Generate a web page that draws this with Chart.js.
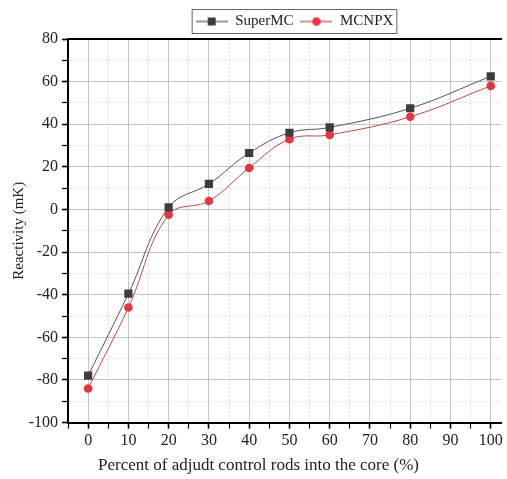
<!DOCTYPE html>
<html>
<head>
<meta charset="utf-8">
<script src="https://cdn.jsdelivr.net/npm/chart.js@4"></script>
<style>
  html, body { margin: 0; padding: 0; background: #fff; overflow: hidden; }
  #wrap { width: 507px; height: 479px; }
</style>
</head>
<body>
<div id="wrap"><canvas id="reactChart"></canvas></div>
<script>
// data
const rodPercent = [0, 10, 20, 30, 40, 50, 60, 80, 100]
const superMC = [-78, -39.5, 1, 12, 26.5, 36, 38.5, 47.5, 62.5]
const mcnpx = [-84, -46, -2.5, 4, 19.5, 33, 35, 43.5, 58]
const seriesNames = ['SuperMC', 'MCNPX']
const xTitle = 'Percent of adjudt control rods into the core (%)'
const yTitle = 'Reactivity (mK)'

const serif = "'Liberation Serif', 'Times New Roman', serif"

// legend icon: short line with marker in the middle
const makeIcon = (color, lineColor, shape) => {
  const c = document.createElement('canvas')
  c.width = 32
  c.height = 10
  const g = c.getContext('2d')
  g.strokeStyle = lineColor
  g.lineWidth = 1.2
  g.beginPath()
  g.moveTo(0, 5)
  g.lineTo(32, 5)
  g.stroke()
  g.fillStyle = color
  if (shape === 'rect') {
    g.fillRect(12, 1, 8, 8)
  } else {
    g.beginPath()
    g.arc(16, 5, 4.3, 0, Math.PI * 2)
    g.fill()
  }
  return c
}

const iconMC = makeIcon('#3d3d3d', '#555555', 'rect')
const iconNP = makeIcon('#e8343c', '#c04848', 'circle')

const toPoints = (ys) => rodPercent.map((x, i) => ({ x: x, y: ys[i] }))

// legend sits right of centre in the original, and has a frame
const legendFrame = {
  id: 'legendFrame',
  afterLayout(chart) {
    chart.legend.left += 36
    chart.legend.right += 36
  },
  afterDraw(chart) {
    const boxes = chart.legend.legendHitBoxes
    if (!boxes || !boxes.length) return
    const left = Math.min(...boxes.map(b => b.left)) - 4
    const right = Math.max(...boxes.map(b => b.left + b.width)) + 3
    const top = Math.min(...boxes.map(b => b.top)) - 5
    const bottom = Math.max(...boxes.map(b => b.top + b.height)) + 4
    const ctx = chart.ctx
    ctx.save()
    ctx.strokeStyle = '#666'
    ctx.lineWidth = 1
    ctx.strokeRect(left + 0.5, top + 0.5, right - left, bottom - top)
    ctx.restore()
  }
}

const isMajor = (ctx, step) => ctx.tick && Math.abs(ctx.tick.value % step) < 1e-6

const initChart = () => {
  const ctx = document.getElementById('reactChart').getContext('2d')

  new Chart(ctx, {
    type: 'line',
    data: {
      datasets: [
        {
          label: seriesNames[0],
          data: toPoints(superMC),
          borderColor: '#555555',
          borderWidth: 1,
          backgroundColor: '#3d3d3d',
          pointStyle: 'rect',
          pointRadius: 5.8,
          pointBorderWidth: 0,
          tension: 0.4
        },
        {
          label: seriesNames[1],
          data: toPoints(mcnpx),
          borderColor: '#c04848',
          borderWidth: 1,
          backgroundColor: '#e8343c',
          pointStyle: 'circle',
          pointRadius: 4.3,
          pointBorderWidth: 0,
          tension: 0.4
        }
      ]
    },
    options: {
      responsive: true,
      maintainAspectRatio: false,
      animation: false,
      layout: { padding: { top: 7, right: 0, left: 10, bottom: 0 } },
      plugins: {
        legend: {
          position: 'top',
          labels: {
            usePointStyle: true,
            pointStyleWidth: 32,
            color: '#222',
            padding: 7,
            font: { family: serif, size: 15 },
            generateLabels: (chart) => [
              { text: seriesNames[0], pointStyle: iconMC, datasetIndex: 0, lineWidth: 0, fontColor: '#222' },
              { text: seriesNames[1], pointStyle: iconNP, datasetIndex: 1, lineWidth: 0, fontColor: '#222' }
            ]
          }
        },
        title: {
          display: true,
          position: 'bottom',
          text: xTitle,
          color: '#222',
          font: { family: serif, size: 17, weight: 'normal' },
          padding: { top: 7, bottom: 3 }
        },
        tooltip: { enabled: false }
      },
      scales: {
        x: {
          type: 'linear',
          min: -5,
          max: 102.6,
          afterFit: (s) => { s.height = 26 },
          ticks: {
            stepSize: 5,
            includeBounds: false,
            autoSkip: false,
            maxRotation: 0,
            color: '#222',
            padding: 3,
            font: { family: serif, size: 16 },
            callback: (v) => (v % 10 === 0 ? String(v) : '')
          },
          grid: {
            color: (c) => (isMajor(c, 10) ? '#c4c4c4' : '#dedede'),
            lineWidth: 1,
            tickColor: '#000',
            tickLength: 6,
            tickWidth: (c) => (isMajor(c, 10) ? 1.6 : 1.2)
          },
          border: {
            color: '#000',
            width: 2,
            dash: (c) => (isMajor(c, 10) ? [] : [2, 2])
          }
        },
        xTop: {
          type: 'linear',
          position: 'top',
          min: -5,
          max: 102.6,
          afterFit: (s) => { s.height = 0 },
          ticks: { display: false },
          grid: { display: false, drawTicks: false },
          border: { color: '#000', width: 2 }
        },
        y: {
          type: 'linear',
          min: -100,
          max: 80,
          afterFit: (s) => { s.width = 58 },
          ticks: {
            stepSize: 10,
            autoSkip: false,
            color: '#222',
            padding: 4,
            font: { family: serif, size: 16 },
            callback: (v) => (v % 20 === 0 ? String(v) : '')
          },
          grid: {
            color: (c) => (isMajor(c, 20) ? '#c4c4c4' : '#dedede'),
            lineWidth: 1,
            tickColor: '#000',
            tickLength: 6,
            tickWidth: (c) => (isMajor(c, 20) ? 1.6 : 1.2)
          },
          border: {
            color: '#000',
            width: 2,
            dash: (c) => (isMajor(c, 20) ? [] : [2, 2])
          },
          title: {
            display: true,
            text: yTitle,
            color: '#222',
            font: { family: serif, size: 15 },
            padding: { top: 0, bottom: 2 }
          }
        }
      }
    },
    plugins: [legendFrame]
  })
}

initChart()
</script>
</body>
</html>
